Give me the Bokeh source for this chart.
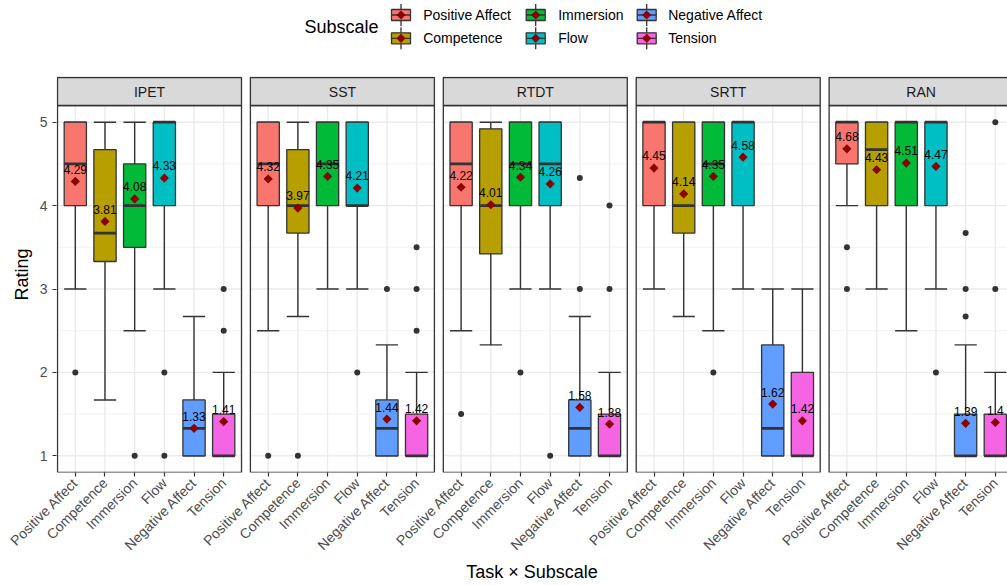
import numpy as np
from bokeh.plotting import figure
from bokeh.models import Range1d, FixedTicker, ColumnDataSource
from bokeh.layouts import column
from bokeh.embed import file_html
from bokeh.resources import INLINE
from bokeh.core.properties import value

# ---------------- data ----------------
tasks = ["IPET", "SST", "RTDT", "SRTT", "RAN"]
subscales = ["Positive Affect", "Competence", "Immersion", "Flow",
             "Negative Affect", "Tension"]
colors = ["#F8766D", "#B79F00", "#00BA38", "#00BFC4", "#619CFF", "#F564E3"]

# rows: tasks, columns: subscales
q1 = [[4.0, 3.33, 3.5, 4.0, 1.0, 1.0],
      [4.0, 3.67, 4.0, 4.0, 1.0, 1.0],
      [4.0, 3.42, 4.0, 4.0, 1.0, 1.0],
      [4.0, 3.67, 4.0, 4.0, 1.0, 1.0],
      [4.5, 4.0, 4.0, 4.0, 1.0, 1.0]]
median = [[4.5, 3.67, 4.0, 5.0, 1.33, 1.0],
          [4.5, 4.0, 4.5, 4.0, 1.33, 1.0],
          [4.5, 4.0, 4.5, 4.5, 1.33, 1.0],
          [5.0, 4.0, 4.5, 5.0, 1.33, 1.0],
          [5.0, 4.67, 5.0, 5.0, 1.0, 1.0]]
q3 = [[5.0, 4.67, 4.5, 5.0, 1.67, 1.5],
      [5.0, 4.67, 5.0, 5.0, 1.67, 1.5],
      [5.0, 4.92, 5.0, 5.0, 1.67, 1.5],
      [5.0, 5.0, 5.0, 5.0, 2.33, 2.0],
      [5.0, 5.0, 5.0, 5.0, 1.5, 1.5]]
whisker_low = [[3.0, 1.67, 2.5, 3.0, 1.0, 1.0],
               [2.5, 2.67, 3.0, 3.0, 1.0, 1.0],
               [2.5, 2.33, 3.0, 3.0, 1.0, 1.0],
               [3.0, 2.67, 2.5, 3.0, 1.0, 1.0],
               [4.0, 3.0, 2.5, 3.0, 1.0, 1.0]]
whisker_high = [[5.0, 5.0, 5.0, 5.0, 2.67, 2.0],
                [5.0, 5.0, 5.0, 5.0, 2.33, 2.0],
                [5.0, 5.0, 5.0, 5.0, 2.67, 2.0],
                [5.0, 5.0, 5.0, 5.0, 3.0, 3.0],
                [5.0, 5.0, 5.0, 5.0, 2.33, 2.0]]
means = [[4.29, 3.81, 4.08, 4.33, 1.33, 1.41],
         [4.32, 3.97, 4.35, 4.21, 1.44, 1.42],
         [4.22, 4.01, 4.34, 4.26, 1.58, 1.38],
         [4.45, 4.14, 4.35, 4.58, 1.62, 1.42],
         [4.68, 4.43, 4.51, 4.47, 1.39, 1.40]]
outliers = [[[2.0], [], [1.0], [2.0, 1.0], [], [2.5, 3.0]],
            [[1.0], [1.0], [], [2.0], [3.0], [2.5, 3.0, 3.5]],
            [[1.5], [], [2.0], [1.0], [4.33, 3.0], [4.0, 3.0]],
            [[], [], [2.0], [], [], []],
            [[3.5, 3.0], [], [], [2.0], [3.67, 3.0, 2.67], [5.0, 3.0]]]

# ---------------- layout constants ----------------
FONT = "Liberation Sans"
W = 1007
LEG_H = 60
PXX = 184 / 6.2          # px per x unit
PXY = 367 / 4.4          # px per y unit
STEP = 6.5               # panel offset in x units
STRIP = 28 / PXY
BW = 0.75
Y0, Y1 = 0.8, 5.2
FRAME_L = 56
x_start = 0.4 - 1 / PXX
x_end = x_start + (W - FRAME_L) / PXX
y_end = Y1 + STRIP + 1 / PXY
FRAME_H = int(round((y_end - Y0) * PXY))
TOP_B = 16
MAIN_H = 585 - LEG_H
BOT_B = MAIN_H - TOP_B - FRAME_H
DARK = "#333333"
GRID = "#EBEBEB"


def fmt(v):
    return f"{v:.2f}".rstrip("0").rstrip(".")


# ---------------- main figure ----------------
main = figure(width=W, height=MAIN_H, x_range=Range1d(x_start, x_end),
              y_range=Range1d(Y0, y_end), output_backend="svg",
              toolbar_location=None, min_border_left=FRAME_L, min_border_right=0,
              min_border_top=TOP_B, min_border_bottom=BOT_B)
main.xgrid.visible = False
main.ygrid.visible = False
main.outline_line_color = None
main.background_fill_color = "white"

# gridlines
gx0, gy0, gx1, gy1, gw = [], [], [], [], []
for k in range(len(tasks)):
    o = STEP * k
    for yv in [1, 2, 3, 4, 5]:
        gx0.append(o + 0.4); gx1.append(o + 6.6); gy0.append(yv); gy1.append(yv); gw.append(1.4)
    for yv in [1.5, 2.5, 3.5, 4.5]:
        gx0.append(o + 0.4); gx1.append(o + 6.6); gy0.append(yv); gy1.append(yv); gw.append(0.7)
    for i in range(len(subscales)):
        gx0.append(o + i + 1); gx1.append(o + i + 1); gy0.append(Y0); gy1.append(Y1); gw.append(1.4)
main.segment(x0=gx0, y0=gy0, x1=gx1, y1=gy1, line_color=GRID, line_width=gw)

# boxplot data
rows = dict(x=[], q1=[], med=[], q3=[], lo=[], hi=[], mean=[], color=[],
            xl=[], xr=[], label=[], ly=[])
ox, oy = [], []
for k in range(len(tasks)):
    for i in range(len(subscales)):
        x = STEP * k + i + 1
        rows["x"].append(x)
        rows["xl"].append(x - BW / 2)
        rows["xr"].append(x + BW / 2)
        rows["q1"].append(q1[k][i])
        rows["med"].append(median[k][i])
        rows["q3"].append(q3[k][i])
        rows["lo"].append(whisker_low[k][i])
        rows["hi"].append(whisker_high[k][i])
        rows["mean"].append(means[k][i])
        rows["label"].append(fmt(means[k][i]))
        rows["ly"].append(means[k][i] + 0.145)
        rows["color"].append(colors[i])
        for v in outliers[k][i]:
            ox.append(x); oy.append(v)
src = ColumnDataSource(rows)

# whiskers + staples
main.segment(x0="x", y0="q3", x1="x", y1="hi", source=src, line_color=DARK, line_width=1.4)
main.segment(x0="x", y0="q1", x1="x", y1="lo", source=src, line_color=DARK, line_width=1.4)
main.segment(x0="xl", y0="hi", x1="xr", y1="hi", source=src, line_color=DARK, line_width=1.4)
main.segment(x0="xl", y0="lo", x1="xr", y1="lo", source=src, line_color=DARK, line_width=1.4)
# boxes
main.vbar(x="x", width=BW, top="q3", bottom="q1", source=src, fill_color="color",
          line_color=DARK, line_width=1.3)
main.segment(x0="xl", y0="med", x1="xr", y1="med", source=src, line_color=DARK, line_width=2.8)
# outliers
main.scatter(x=ox, y=oy, marker="circle", size=6, fill_color=DARK, line_color=None)
# means
main.scatter(x="x", y="mean", source=src, marker="square", angle=np.pi / 4, size=6.5,
             fill_color="#8B0000", line_color=None)
main.text(x="x", y="ly", text="label", source=src, text_font=value(FONT),
          text_font_size="12px", text_align="center", text_baseline="middle",
          text_color="black")

# panel borders and strips
pl = [STEP * k + 0.4 for k in range(len(tasks))]
pr = [STEP * k + 6.6 for k in range(len(tasks))]
main.quad(left=pl, right=pr, top=Y1, bottom=Y0, fill_color=None, line_color=DARK, line_width=1.3)
main.quad(left=pl, right=pr, top=Y1 + STRIP, bottom=Y1, fill_color="#D9D9D9",
          line_color=DARK, line_width=1.3)
main.text(x=[STEP * k + 3.5 for k in range(len(tasks))], y=[Y1 + STRIP / 2] * len(tasks),
          text=tasks, text_font=value(FONT), text_font_size="14px", text_align="center",
          text_baseline="middle", text_color="#1A1A1A")

# axes
xticks = [STEP * k + i + 1 for k in range(len(tasks)) for i in range(len(subscales))]
xlabels = [s for k in range(len(tasks)) for s in subscales]
main.xaxis.ticker = FixedTicker(ticks=xticks, minor_ticks=[])
main.xaxis.major_label_overrides = {t: s for t, s in zip(xticks, xlabels)}
main.xaxis.major_label_orientation = np.pi / 4
main.yaxis.ticker = FixedTicker(ticks=[1, 2, 3, 4, 5], minor_ticks=[])
for ax in (main.xaxis[0], main.yaxis[0]):
    ax.axis_line_color = None
    ax.major_tick_in = 0
    ax.major_tick_out = 4
    ax.major_tick_line_color = DARK
    ax.major_tick_line_width = 1.2
    ax.minor_tick_line_color = None
    ax.major_label_text_font = FONT
    ax.major_label_text_font_size = "14px"
    ax.major_label_text_color = "#4D4D4D"
    ax.axis_label_text_font = FONT
    ax.axis_label_text_font_size = "18px"
    ax.axis_label_text_font_style = "normal"
    ax.axis_label_text_color = "black"
main.xaxis.axis_label = "Task × Subscale"
main.xaxis.major_label_standoff = 4
main.xaxis.axis_label_standoff = 0
main.yaxis.axis_label = "Rating"
main.yaxis.major_label_standoff = 5
main.yaxis.axis_label_standoff = 5

# ---------------- legend figure ----------------
leg = figure(width=W, height=LEG_H, x_range=Range1d(FRAME_L, W), y_range=Range1d(LEG_H, 0),
             output_backend="svg", toolbar_location=None, min_border=0,
             min_border_left=FRAME_L, min_border_right=0,
             x_axis_location=None, y_axis_location=None)
leg.grid.visible = False
leg.outline_line_color = None
key_left = [391.0, 525.7, 636.7]
text_left = [422.7, 557.7, 667.7]
row_y = [14.5, 37.8]
kx, ky, tx = [], [], []
for i, s in enumerate(subscales):
    c, r = i // 2, i % 2
    kx.append(key_left[c] + 9.5)
    ky.append(row_y[r])
    tx.append(text_left[c])
lsrc = ColumnDataSource(dict(x=kx, y=ky, tx=tx, label=subscales, color=colors,
                             xl=[v - 9.5 for v in kx], xr=[v + 9.5 for v in kx],
                             yt=[v - 11 for v in ky], yb=[v + 11 for v in ky],
                             bt=[v - 5.5 for v in ky], bb=[v + 5.5 for v in ky]))
leg.segment(x0="x", y0="yt", x1="x", y1="yb", source=lsrc, line_color=DARK, line_width=1.3)
leg.quad(left="xl", right="xr", top="bt", bottom="bb", source=lsrc, fill_color="color",
         line_color=DARK, line_width=1.3)
leg.segment(x0="xl", y0="y", x1="xr", y1="y", source=lsrc, line_color=DARK, line_width=1.3)
leg.scatter(x="x", y="y", source=lsrc, marker="square", angle=np.pi / 4, size=6.5,
            fill_color="#8B0000", line_color=None)
leg.text(x="tx", y="y", text="label", source=lsrc, text_font=value(FONT),
         text_font_size="14px", text_align="left", text_baseline="middle", text_color="black")
leg.text(x=[304], y=[26], text=["Subscale"], text_font=value(FONT), text_font_size="18px",
         text_align="left", text_baseline="middle", text_color="black")

layout = column(leg, main, spacing=0)
open("out.html", "w").write(file_html(layout, INLINE))
